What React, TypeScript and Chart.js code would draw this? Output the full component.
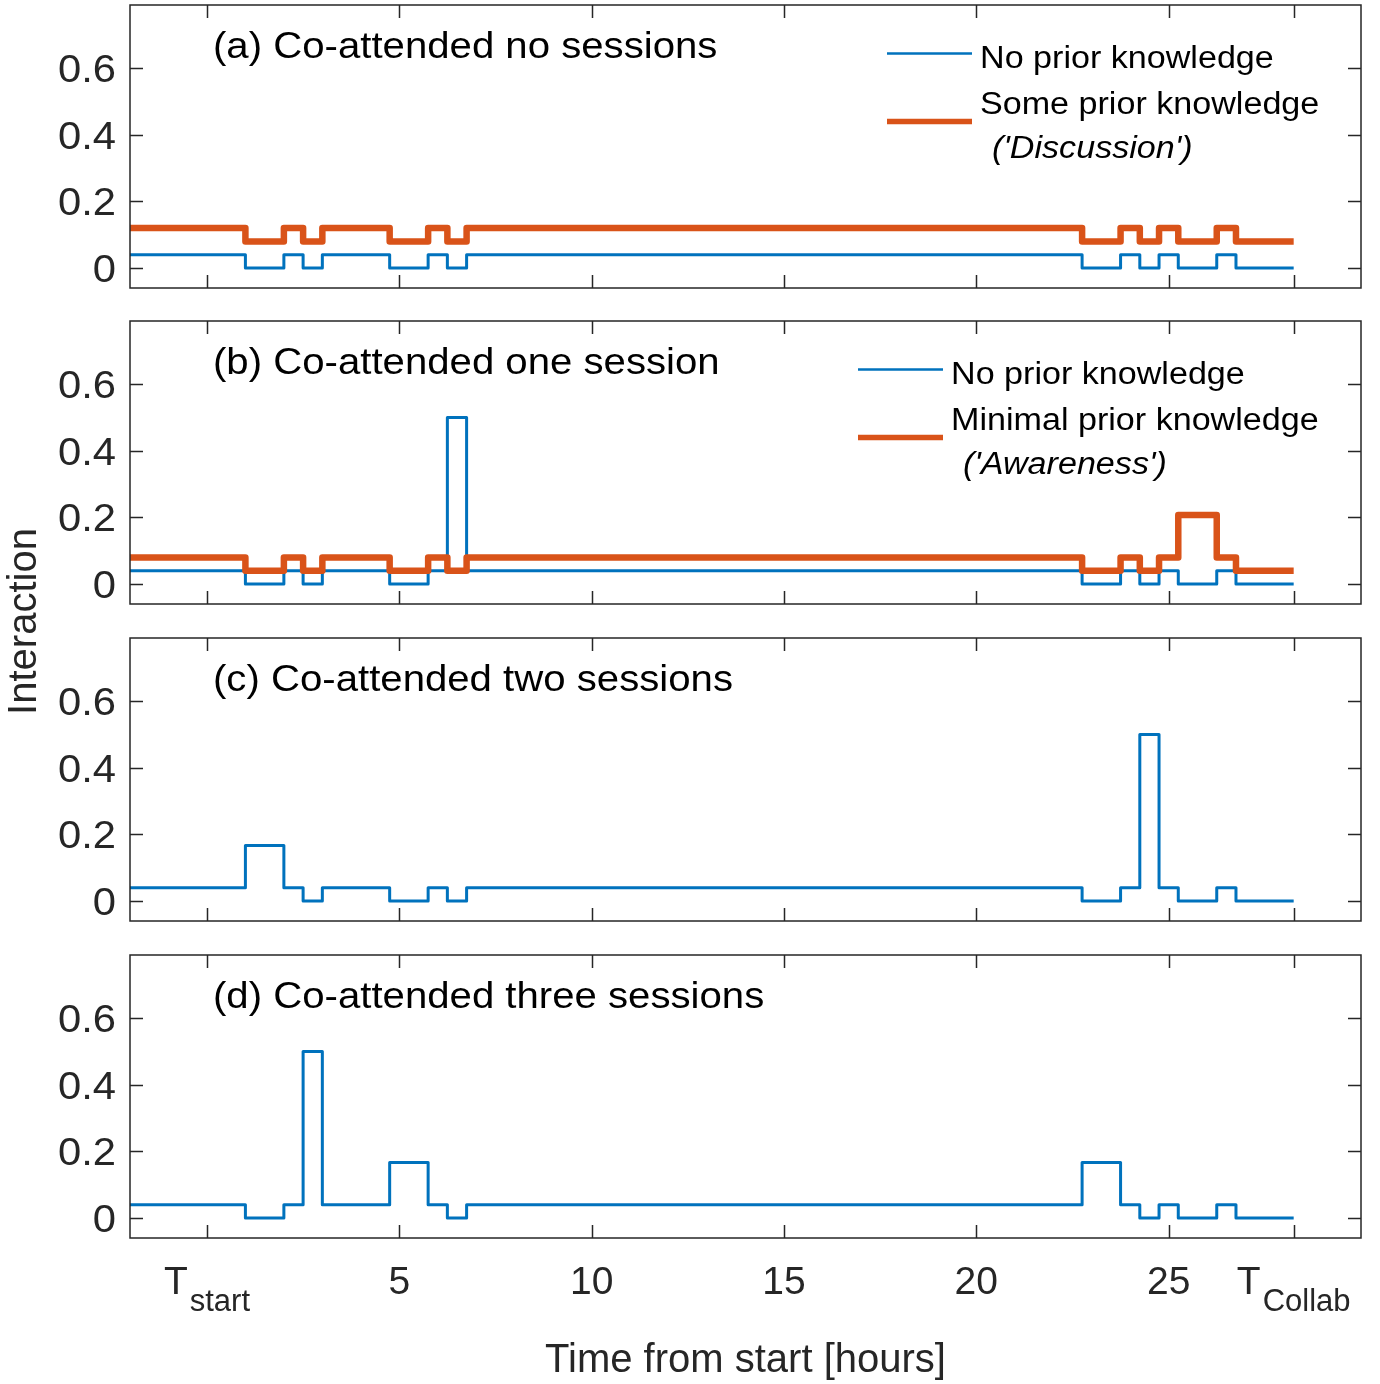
import React, { useEffect, useRef } from "react";
import { Chart, registerables } from "chart.js";

Chart.register(...registerables);

// ---------------- Data ----------------
// Breakpoints (hours from start); each value holds from its time until the next one.
const stepTimes = [-2, 1, 2, 2.5, 3, 4.75, 5.75, 6.25, 6.75, 22.75, 23.75, 24.25, 24.75, 25.25, 26.25, 26.75, 28.25];

// (a) Co-attended no sessions
const noneNoPrior = [0.04, 0, 0.04, 0, 0.04, 0, 0.04, 0, 0.04, 0, 0.04, 0, 0.04, 0, 0.04, 0];
const noneSomePrior = [0.12, 0.08, 0.12, 0.08, 0.12, 0.08, 0.12, 0.08, 0.12, 0.08, 0.12, 0.08, 0.12, 0.08, 0.12, 0.08];
// (b) Co-attended one session
const oneNoPrior = [0.04, 0, 0.04, 0, 0.04, 0, 0.04, 0.5, 0.04, 0, 0.04, 0, 0.04, 0, 0.04, 0];
const oneMinimalPrior = [0.08, 0.04, 0.08, 0.04, 0.08, 0.04, 0.08, 0.04, 0.08, 0.04, 0.08, 0.04, 0.08, 0.207, 0.08, 0.04];
// (c) Co-attended two sessions
const twoNoPrior = [0.04, 0.167, 0.04, 0, 0.04, 0, 0.04, 0, 0.04, 0, 0.04, 0.5, 0.04, 0, 0.04, 0];
// (d) Co-attended three sessions
const threeNoPrior = [0.04, 0, 0.04, 0.5, 0.04, 0.167, 0.04, 0, 0.04, 0.167, 0.04, 0, 0.04, 0, 0.04, 0];

const xTickValues = [0, 5, 10, 15, 20, 25, 28.25];
const xTickMain = ["T", "5", "10", "15", "20", "25", "T"];
const xTickSub = ["start", "", "", "", "", "", "Collab"];
const yTickValues = [0, 0.2, 0.4, 0.6];

const panelTitles = [
  "(a) Co-attended no sessions",
  "(b) Co-attended one session",
  "(c) Co-attended two sessions",
  "(d) Co-attended three sessions",
];
const legendA = ["No prior knowledge", "Some prior knowledge", "('Discussion')"];
const legendB = ["No prior knowledge", "Minimal prior knowledge", "('Awareness')"];
const xAxisTitle = "Time from start [hours]";
const yAxisTitle = "Interaction";

// ---------------- Styles / layout ----------------
const FONT = '"Liberation Sans", Arial, Helvetica, sans-serif';
const BLUE = "#0072BD";
const ORANGE = "#D95319";
const AXIS = "#262626";
const W = 1380;
const H = 1384;
const PANEL_TOPS = [5, 321, 638, 955];
const PANEL_H = 283;
const PLOT_LEFT = 130;
const PLOT_RIGHT = 1361;
const TICK_LEN = 13;
const TEXT_SX = 1.1;

const panels = [
  { title: panelTitles[0], blue: noneNoPrior, orange: noneSomePrior, legend: legendA, legendX: 887 },
  { title: panelTitles[1], blue: oneNoPrior, orange: oneMinimalPrior, legend: legendB, legendX: 858 },
  { title: panelTitles[2], blue: twoNoPrior, orange: null, legend: null, legendX: 0 },
  { title: panelTitles[3], blue: threeNoPrior, orange: null, legend: null, legendX: 0 },
];

function toPoints(vals: number[]) {
  return stepTimes.map((t, i) => ({ x: t, y: i < vals.length ? vals[i] : vals[vals.length - 1] }));
}

function drawText(
  ctx: CanvasRenderingContext2D,
  text: string,
  x: number,
  y: number,
  font: string,
  color: string,
  align: "left" | "center" | "right" = "left",
  sx = 1
) {
  ctx.save();
  ctx.font = font;
  ctx.fillStyle = color;
  const w = ctx.measureText(text).width * sx;
  let left = x;
  if (align === "center") left = x - w / 2;
  else if (align === "right") left = x - w;
  ctx.translate(left, y);
  ctx.scale(sx, 1);
  ctx.textAlign = "left";
  ctx.textBaseline = "alphabetic";
  ctx.fillText(text, 0, 0);
  ctx.restore();
}

function makePlugin(idx: number) {
  const p = panels[idx];
  return {
    id: "panelDecor" + idx,
    afterDraw(chart: any) {
      const { ctx, chartArea: ca, scales } = chart;
      const xs = scales.x;
      const ys = scales.y;
      ctx.save();
      // frame
      ctx.strokeStyle = AXIS;
      ctx.lineWidth = 1.5;
      ctx.strokeRect(ca.left, ca.top, ca.right - ca.left, ca.bottom - ca.top);
      // inward ticks
      ctx.beginPath();
      for (const v of yTickValues) {
        const py = Math.round(ys.getPixelForValue(v)) + 0.5;
        ctx.moveTo(ca.left, py);
        ctx.lineTo(ca.left + TICK_LEN, py);
        ctx.moveTo(ca.right, py);
        ctx.lineTo(ca.right - TICK_LEN, py);
      }
      for (const v of xTickValues) {
        const px = Math.round(xs.getPixelForValue(v)) + 0.5;
        ctx.moveTo(px, ca.top);
        ctx.lineTo(px, ca.top + TICK_LEN);
        ctx.moveTo(px, ca.bottom);
        ctx.lineTo(px, ca.bottom - TICK_LEN);
      }
      ctx.stroke();
      ctx.restore();

      // y tick labels (slightly wide, like the reference)
      for (const v of yTickValues) {
        const py = ys.getPixelForValue(v);
        drawText(ctx, String(v), ca.left - 14, py + 14, `39px ${FONT}`, AXIS, "right", 1.07);
      }

      // panel title
      drawText(ctx, p.title, ca.left + 83, ca.top + 53, `36.5px ${FONT}`, "#000", "left", TEXT_SX);

      // legend
      if (p.legend) {
        const lx = p.legendX;
        ctx.save();
        ctx.lineCap = "butt";
        ctx.strokeStyle = BLUE;
        ctx.lineWidth = 2.5;
        ctx.beginPath();
        ctx.moveTo(lx, ca.top + 48.5);
        ctx.lineTo(lx + 85, ca.top + 48.5);
        ctx.stroke();
        ctx.strokeStyle = ORANGE;
        ctx.lineWidth = 5.5;
        ctx.beginPath();
        ctx.moveTo(lx, ca.top + 116.5);
        ctx.lineTo(lx + 85, ca.top + 116.5);
        ctx.stroke();
        ctx.restore();
        const tx = lx + 93;
        drawText(ctx, p.legend[0], tx, ca.top + 63, `31px ${FONT}`, "#000", "left", TEXT_SX);
        drawText(ctx, p.legend[1], tx, ca.top + 108.5, `31px ${FONT}`, "#000", "left", TEXT_SX);
        drawText(ctx, p.legend[2], tx + 12, ca.top + 153, `italic 31px ${FONT}`, "#000", "left", TEXT_SX);
      }

      // bottom panel: x tick labels, axis titles
      if (idx === panels.length - 1) {
        ctx.save();
        for (let i = 0; i < xTickValues.length; i++) {
          const px = xs.getPixelForValue(xTickValues[i]);
          ctx.font = `39px ${FONT}`;
          const mw = ctx.measureText(xTickMain[i]).width;
          ctx.font = `31px ${FONT}`;
          const sw = xTickSub[i] ? ctx.measureText(xTickSub[i]).width + 2 : 0;
          const start = px - (mw + sw) / 2;
          drawText(ctx, xTickMain[i], start, 1294, `39px ${FONT}`, AXIS, "left");
          if (xTickSub[i]) drawText(ctx, xTickSub[i], start + mw + 2, 1311, `31px ${FONT}`, AXIS, "left");
        }
        ctx.restore();
        drawText(ctx, xAxisTitle, (ca.left + ca.right) / 2, 1372, `40px ${FONT}`, AXIS, "center");
        ctx.save();
        ctx.translate(25, (PANEL_TOPS[0] + PANEL_TOPS[3] + PANEL_H) / 2);
        ctx.rotate(-Math.PI / 2);
        ctx.font = `40px ${FONT}`;
        ctx.fillStyle = AXIS;
        ctx.textAlign = "center";
        ctx.textBaseline = "middle";
        ctx.fillText(yAxisTitle, 0, 0);
        ctx.restore();
      }
    },
  };
}

function Panel({ idx }: { idx: number }) {
  const ref = useRef<HTMLCanvasElement | null>(null);
  useEffect(() => {
    if (!ref.current) return;
    const p = panels[idx];
    const top = PANEL_TOPS[idx];
    const datasets: any[] = [
      {
        label: p.legend ? p.legend[0] : "No prior knowledge",
        data: toPoints(p.blue),
        borderColor: BLUE,
        backgroundColor: BLUE,
        borderWidth: 3,
        stepped: true,
        pointRadius: 0,
        fill: false,
        order: 1,
        borderJoinStyle: "round",
      },
    ];
    if (p.orange) {
      datasets.push({
        label: p.legend ? p.legend[1] : "",
        data: toPoints(p.orange),
        borderColor: ORANGE,
        backgroundColor: ORANGE,
        borderWidth: 6.5,
        stepped: true,
        pointRadius: 0,
        fill: false,
        order: 0,
        borderJoinStyle: "round",
      });
    }
    const chart = new Chart(ref.current, {
      type: "line",
      data: { datasets },
      options: {
        responsive: false,
        animation: false,
        devicePixelRatio: 1,
        layout: { padding: { top, bottom: H - top - PANEL_H, left: 0, right: W - PLOT_RIGHT } },
        plugins: { legend: { display: false }, tooltip: { enabled: false }, title: { display: false } },
        events: [],
        scales: {
          x: { type: "linear", min: -2, max: 30, display: false },
          y: {
            type: "linear",
            min: -0.06,
            max: 0.79,
            grid: { display: false },
            border: { display: false },
            ticks: { display: false },
            afterBuildTicks: (s: any) => {
              s.ticks = yTickValues.map((v) => ({ value: v }));
            },
            afterFit: (s: any) => {
              s.width = PLOT_LEFT;
              s.paddingTop = 0;
              s.paddingBottom = 0;
            },
          },
        },
      } as any,
      plugins: [makePlugin(idx)],
    });
    return () => chart.destroy();
  }, [idx]);
  return (
    <canvas
      ref={ref}
      width={W}
      height={H}
      style={{ position: "absolute", left: 0, top: 0, width: W, height: H }}
    />
  );
}

export default function App() {
  return (
    <div style={{ position: "absolute", left: 0, top: 0, width: W, height: H, background: "#fff", overflow: "hidden" }}>
      {panels.map((_, i) => (
        <Panel key={i} idx={i} />
      ))}
    </div>
  );
}
